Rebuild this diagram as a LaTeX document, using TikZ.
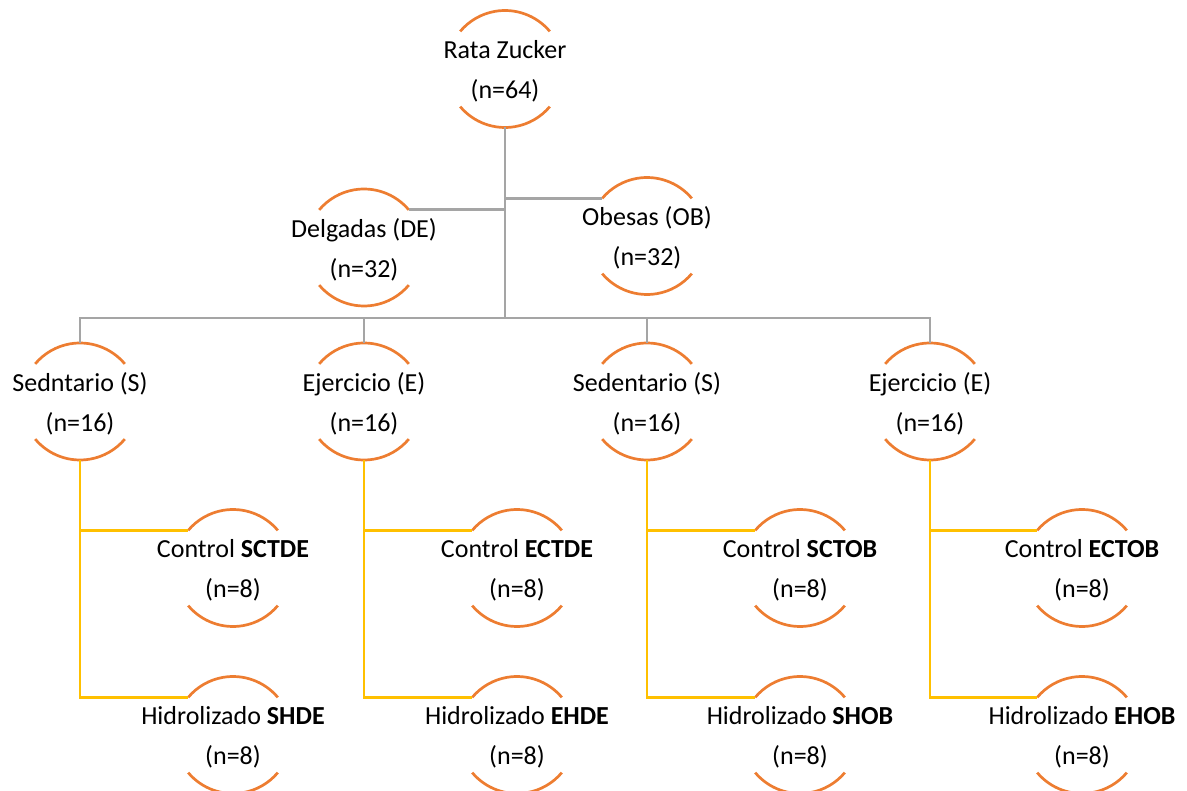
\documentclass[tikz,border=0pt]{standalone}
\usepackage{fontspec}
\setmainfont{Carlito}
\definecolor{arcorange}{HTML}{ED7D31}
\definecolor{linegray}{HTML}{A5A5A5}
\definecolor{lineyellow}{HTML}{FFC000}
\begin{document}
\begin{tikzpicture}[x=1pt,y=1pt,
  grp/.style={circle, minimum size=117pt, inner sep=0pt, outer sep=0pt},
  txt/.style={align=center, font=\fontsize{26}{40}\selectfont, inner sep=0pt, yshift=-2pt},
  arcline/.style={draw=arcorange, line width=2.7pt},
  grayline/.style={draw=linegray, line width=2.8pt},
  yellowline/.style={draw=lineyellow, line width=2.8pt}]
\useasboundingbox (0,0) rectangle (1187,-791);
\clip (0,0) rectangle (1187,-791);
% group circles (only top and bottom arcs are drawn)
\node[grp] (root) at (505,-69) {};
\node[grp] (de) at (364,-247.5) {};
\node[grp] (ob) at (647,-236) {};
\node[grp] (s1) at (80,-401.5) {};
\node[grp] (e1) at (364,-401.5) {};
\node[grp] (s2) at (647,-401.5) {};
\node[grp] (e2) at (930,-401.5) {};
\node[grp] (c1) at (233,-568) {};
\node[grp] (c2) at (517,-568) {};
\node[grp] (c3) at (800,-568) {};
\node[grp] (c4) at (1082,-568) {};
\node[grp] (h1) at (233,-735) {};
\node[grp] (h2) at (517,-735) {};
\node[grp] (h3) at (800,-735) {};
\node[grp] (h4) at (1082,-735) {};
% texts
\node[txt] (root-t) at (root) {Rata Zucker\\(n=64)};
\node[txt] (de-t) at (de) {Delgadas (DE)\\(n=32)};
\node[txt] (ob-t) at (ob) {Obesas (OB)\\(n=32)};
\node[txt] (s1-t) at (s1) {Sedntario (S)\\(n=16)};
\node[txt] (e1-t) at (e1) {Ejercicio (E)\\(n=16)};
\node[txt] (s2-t) at (s2) {Sedentario (S)\\(n=16)};
\node[txt] (e2-t) at (e2) {Ejercicio (E)\\(n=16)};
\node[txt] (c1-t) at (c1) {Control \textbf{SCTDE}\\(n=8)};
\node[txt] (c2-t) at (c2) {Control \textbf{ECTDE}\\(n=8)};
\node[txt] (c3-t) at (c3) {Control \textbf{SCTOB}\\(n=8)};
\node[txt] (c4-t) at (c4) {Control \textbf{ECTOB}\\(n=8)};
\node[txt] (h1-t) at (h1) {Hidrolizado \textbf{SHDE}\\(n=8)};
\node[txt] (h2-t) at (h2) {Hidrolizado \textbf{EHDE}\\(n=8)};
\node[txt] (h3-t) at (h3) {Hidrolizado \textbf{SHOB}\\(n=8)};
\node[txt] (h4-t) at (h4) {Hidrolizado \textbf{EHOB}\\(n=8)};
% arcs
\foreach \n in {root,de,ob,s1,e1,s2,e2,c1,c2,c3,c4,h1,h2,h3,h4}{
  \draw[arcline] (\n.40) arc[start angle=40, end angle=140, radius=58.5pt];
  \draw[arcline] (\n.220) arc[start angle=220, end angle=320, radius=58.5pt];
}
% gray connectors
\coordinate (bus) at (0,-318);
\draw[grayline] (root.south) -- (root.south |- bus);
\draw[grayline] (de.40) -- (de.40 -| root.south);
\draw[grayline] (ob.140) -- (ob.140 -| root.south);
\draw[grayline] (s1.north) -- (s1.north |- bus) -- (e2.north |- bus) -- (e2.north);
\draw[grayline] (e1.north) -- (e1.north |- bus);
\draw[grayline] (s2.north) -- (s2.north |- bus);
% yellow connectors
\foreach \p/\c/\h in {s1/c1/h1, e1/c2/h2, s2/c3/h3, e2/c4/h4}{
  \draw[yellowline] (\p.south) -- (\p.south |- \h.140) -- (\h.140);
  \draw[yellowline] (\p.south |- \c.140) -- (\c.140);
}
\end{tikzpicture}
\end{document}
